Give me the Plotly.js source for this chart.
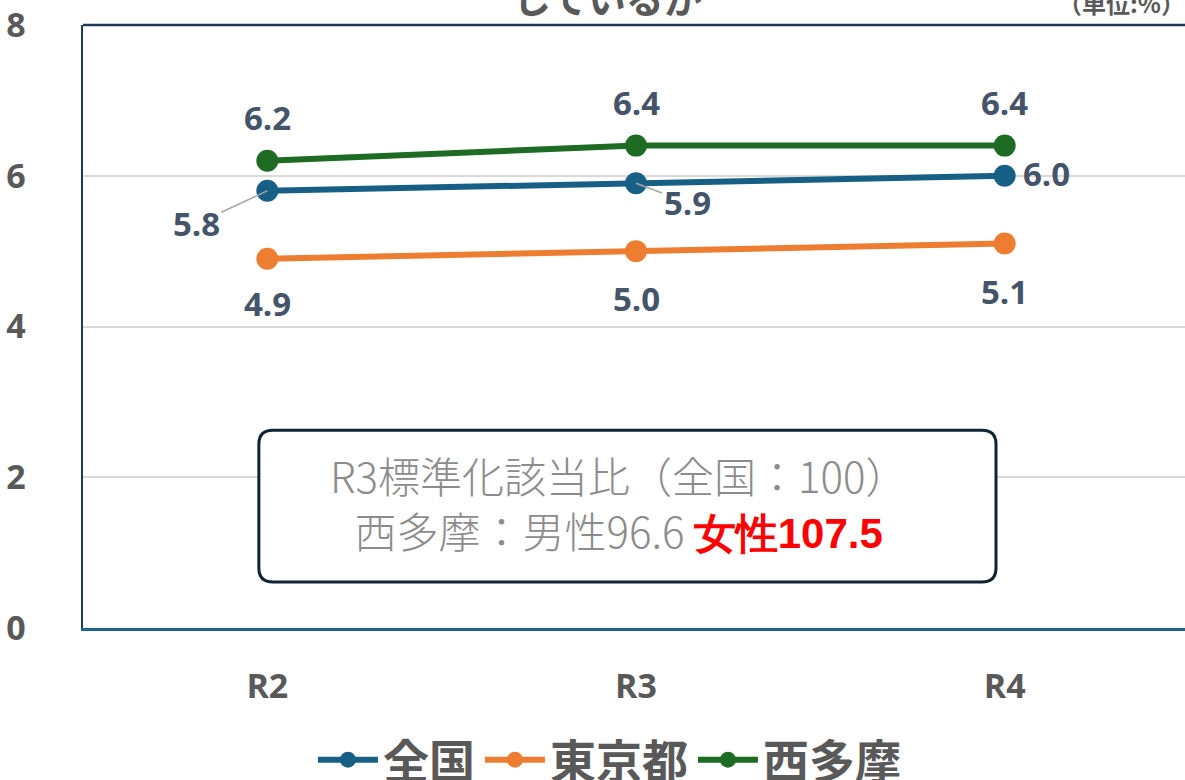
<!DOCTYPE html>
<html>
<head>
<meta charset="utf-8">
<script src="https://cdn.plot.ly/plotly-3.0.1.min.js"></script>
<style>
html,body{margin:0;padding:0;overflow:hidden;background:#fff;}
#chart{width:1190px;height:780px;}
</style>
</head>
<body>
<div id="chart"></div>
<script>
// ---- data ----
const categories = ['R2', 'R3', 'R4'];
const seriesNames = ['全国', '東京都', '西多摩'];
const zenkoku = [5.8, 5.9, 6.0];
const tokyo = [4.9, 5.0, 5.1];
const nishitama = [6.2, 6.4, 6.4];
const yTicks = [0, 2, 4, 6, 8];
const titleText = 'しているか';
const unitText = '（単位:%）';
const noteLine1 = 'R3標準化該当比（全国：100）';
const noteLine2Gray = '西多摩：男性96.6 ';
const noteLine2Red = '女性107.5';

// ---- styles ----
const colors = ['#175F85', '#ED7D31', '#1E6B24'];
const labelColor = '#44546A';
const tickColor = '#595959';
const numFont = 'Open Sans, Noto Sans, sans-serif';
const cjkFont = 'Noto Sans CJK JP, Noto Sans, sans-serif';

const allSeries = [zenkoku, tokyo, nishitama];
const traces = allSeries.map((vals, i) => ({
  type: 'scatter',
  mode: 'lines+markers',
  name: seriesNames[i],
  x: categories,
  y: vals,
  line: {color: colors[i], width: 6},
  marker: {color: colors[i], size: 22},
  hoverinfo: 'skip'
}));

// label offsets (pixels) per series / point
const labelOffsets = [
  [{dx: -71, dy: 33, arrow: true}, {dx: 51, dy: 19, arrow: true}, {dx: 42, dy: -2, arrow: false}],
  [{dx: 0, dy: 45}, {dx: 0, dy: 47}, {dx: 0, dy: 48}],
  [{dx: 0, dy: -43}, {dx: 0, dy: -43}, {dx: 0, dy: -43}]
];

const annotations = [];
allSeries.forEach((vals, i) => {
  vals.forEach((v, j) => {
    const o = labelOffsets[i][j];
    const a = {
      x: categories[j], y: v, xref: 'x', yref: 'y',
      text: v.toFixed(1),
      font: {family: numFont, size: 33, color: labelColor, weight: 700}
    };
    if (o.arrow) {
      Object.assign(a, {showarrow: true, ax: o.dx, ay: o.dy, arrowhead: 0,
        arrowwidth: 1.5, arrowcolor: '#A6A6A6', standoff: 0, startstandoff: 0});
    } else {
      Object.assign(a, {showarrow: false, xshift: o.dx, yshift: -o.dy});
    }
    annotations.push(a);
  });
});

// title (partially visible) and unit
annotations.push({
  xref: 'paper', yref: 'paper', x: 0.474, y: 1.0, yanchor: 'bottom', yshift: -1,
  showarrow: false, text: '<b>' + titleText + '</b>',
  font: {family: cjkFont, size: 38, color: tickColor}
});
annotations.push({
  xref: 'paper', yref: 'paper', x: 0.998, xanchor: 'right', y: 1.0, yanchor: 'bottom', yshift: 3,
  showarrow: false, text: '<b>' + unitText + '</b>',
  font: {family: cjkFont, size: 24, color: tickColor}
});
// note box text
annotations.push({
  xref: 'paper', yref: 'paper', x: 0.484, y: 0.209, xanchor: 'center', yanchor: 'middle',
  showarrow: false, align: 'center',
  text: noteLine1 + '<br>' + noteLine2Gray +
        '<span style="color:#FF0000;font-weight:bold;font-family:Liberation Sans Narrow, Liberation Sans, Arial, sans-serif">' + noteLine2Red + '</span>',
  font: {family: cjkFont, size: 42, color: '#8C8C8C', weight: 300}
});

// rounded rectangle for note box (paper coords)
const bx0 = 0.159, bx1 = 0.8255, by0 = 0.0763, by1 = 0.328, rx = 0.0127, ry = 0.0232;
const boxPath = `M${bx0+rx},${by0} L${bx1-rx},${by0} Q${bx1},${by0} ${bx1},${by0+ry} L${bx1},${by1-ry} Q${bx1},${by1} ${bx1-rx},${by1} L${bx0+rx},${by1} Q${bx0},${by1} ${bx0},${by1-ry} L${bx0},${by0+ry} Q${bx0},${by0} ${bx0+rx},${by0} Z`;

const layout = {
  width: 1190, height: 780,
  margin: {l: 83, r: 1, t: 25, b: 152, autoexpand: false},
  paper_bgcolor: '#ffffff', plot_bgcolor: '#ffffff',
  showlegend: true,
  legend: {
    orientation: 'h', x: 0.476, xanchor: 'center', y: -0.158, yanchor: 'top',
    font: {family: cjkFont, size: 46, color: tickColor, weight: 700},
    itemwidth: 60, tracegroupgap: 0
  },
  xaxis: {
    type: 'category', range: [-0.5, 2.5],
    showgrid: false, zeroline: false,
    showline: true, linecolor: '#1F6391', linewidth: 2.5,
    ticks: '', ticklabelstandoff: 27,
    tickfont: {family: numFont, size: 34, color: tickColor, weight: 700}
  },
  yaxis: {
    range: [0, 8], tickvals: yTicks, ticktext: yTicks.map(String),
    showgrid: true, gridcolor: '#D9D9D9', gridwidth: 2,
    zeroline: false, showline: true, linecolor: '#1F3A56', linewidth: 2.5,
    ticks: '', ticklabelstandoff: 48,
    tickfont: {family: numFont, size: 34, color: tickColor, weight: 700}
  },
  shapes: [
    {type: 'line', xref: 'paper', yref: 'paper', x0: 0, x1: 1, y0: 1, y1: 1,
     line: {color: '#1F3A56', width: 2.5}},
    {type: 'path', xref: 'paper', yref: 'paper', path: boxPath,
     fillcolor: '#FFFFFF', line: {color: '#0F2535', width: 3}, layer: 'above'}
  ],
  annotations: annotations
};

Plotly.newPlot('chart', traces, layout, {displayModeBar: false, staticPlot: true});
</script>
</body>
</html>
